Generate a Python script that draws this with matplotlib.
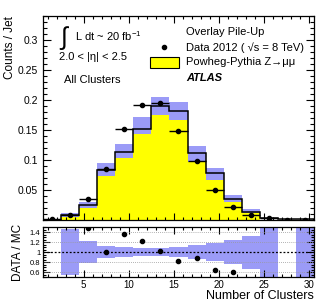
import numpy as np
import matplotlib
matplotlib.use("Agg")
import matplotlib.pyplot as plt
from matplotlib.ticker import MultipleLocator, FixedLocator
from matplotlib.patches import Rectangle

plt.rcParams['font.family'] = ['Liberation Sans', 'DejaVu Sans']
plt.rcParams['mathtext.fontset'] = 'custom'
plt.rcParams['mathtext.rm'] = 'Liberation Sans'
plt.rcParams['mathtext.it'] = 'Liberation Sans:italic'

# ---- data ----
bin_edges = np.arange(0.5, 31.0, 2.0)
bin_centers = np.arange(1.5, 30.0, 2.0)
data = [0.001, 0.0083, 0.0345, 0.0845, 0.151, 0.192, 0.1945, 0.149, 0.0975, 0.05, 0.021, 0.0083, 0.003, 0.0003, 0.0003]
data_err = [0.001, 0.001, 0.002, 0.002, 0.002, 0.002, 0.002, 0.002, 0.002, 0.002, 0.001, 0.001, 0.001, 0.0005, 0.0005]
mc_total = [0.0003, 0.0075, 0.025, 0.083, 0.114, 0.152, 0.190, 0.182, 0.111, 0.078, 0.035, 0.014, 0.004, 0.001, 0.001]
mc_signal = [0.0, 0.0045, 0.0195, 0.0733, 0.103, 0.144, 0.175, 0.1667, 0.097, 0.067, 0.0305, 0.011, 0.0, 0.0, 0.0]
band_lo = [np.nan, 0.0045, 0.0195, 0.0733, 0.103, 0.144, 0.175, 0.1667, 0.097, 0.067, 0.0305, 0.011, np.nan, np.nan, np.nan]
band_hi = [np.nan, 0.011, 0.0305, 0.0945, 0.126, 0.172, 0.2045, 0.196, 0.123, 0.087, 0.0417, 0.018, np.nan, np.nan, np.nan]

ratio = [np.nan, np.nan, 1.48, 1.0, 1.355, 1.23, 1.03, 0.82, 0.877, 0.64, 0.60, np.nan, np.nan, np.nan, np.nan]
ratio_err = [np.nan, 0.46, 0.22, 0.12, 0.10, 0.085, 0.075, 0.10, 0.135, 0.18, 0.24, 0.33, 1.0, np.nan, 1.0]

blue = '#9b9bf7'
yellow = '#ffff00'

fig = plt.figure(figsize=(3.29, 3.05), dpi=100)
ax = fig.add_axes([0.1307, 0.2787, 0.8237, 0.6689])
rx = fig.add_axes([0.1307, 0.0918, 0.8237, 0.1639])

# ---- main panel ----
for i in range(len(bin_centers)):
    x0, x1 = bin_edges[i], bin_edges[i + 1]
    if mc_signal[i] > 0:
        ax.fill_between([x0, x1], 0, mc_signal[i], color=yellow, lw=0, zorder=1)
    if not np.isnan(band_lo[i]):
        ax.fill_between([x0, x1], band_lo[i], band_hi[i], color=blue, lw=0, zorder=2)
ax.stairs(mc_total, bin_edges, color='black', lw=1.1, zorder=3)
ax.errorbar(bin_centers, data, xerr=1.0, yerr=data_err, fmt='o', color='black',
            ms=3.0, lw=1.0, capsize=0, zorder=4)

ax.set_xlim(0.5, 30.5)
ax.set_ylim(0, 0.34)
ax.yaxis.set_major_locator(FixedLocator([0.05, 0.1, 0.15, 0.2, 0.25, 0.3]))
ax.set_yticklabels(['0.05', '0.1', '0.15', '0.2', '0.25', '0.3'])
ax.yaxis.set_minor_locator(MultipleLocator(0.01))
ax.xaxis.set_major_locator(MultipleLocator(5))
ax.xaxis.set_minor_locator(MultipleLocator(1))
ax.tick_params(which='both', direction='in', top=True, right=True, labelbottom=False)
ax.tick_params(axis='y', which='major', length=6, labelsize=7.5, width=0.8)
ax.tick_params(axis='y', which='minor', length=3, width=0.8)
ax.tick_params(axis='x', which='major', length=5, width=0.8)
ax.tick_params(axis='x', which='minor', length=2.5, width=0.8)
ax.set_ylabel('Counts / Jet', fontsize=8.5, loc='top')
ax.yaxis.set_label_coords(-0.10, 1.0)

# annotations
ax.text(0.064, 0.893, '\u222b', transform=ax.transAxes, fontsize=18, va='center', ha='left')
ax.text(0.118, 0.902, 'L dt ~ 20 fb$^{-1}$', transform=ax.transAxes, fontsize=8, va='center', ha='left')
ax.text(0.059, 0.799, '2.0 < |\u03b7| < 2.5', transform=ax.transAxes, fontsize=8, va='center', ha='left')
ax.text(0.0775, 0.686, 'All Clusters', transform=ax.transAxes, fontsize=8, va='center', ha='left')

# legend
ax.text(0.528, 0.923, 'Overlay Pile-Up', transform=ax.transAxes, fontsize=8, va='center', ha='left')
ax.plot([0.446], [0.847], 'o', color='black', ms=3.0, transform=ax.transAxes, clip_on=False)
ax.text(0.528, 0.847, 'Data 2012 ( \u221as = 8 TeV)', transform=ax.transAxes, fontsize=8, va='center', ha='left')
ax.add_patch(Rectangle((0.395, 0.744), 0.107, 0.056, transform=ax.transAxes,
                       facecolor=yellow, edgecolor='black', lw=0.8, zorder=5))
ax.text(0.528, 0.776, 'Powheg-Pythia Z\u2192\u03bc\u03bc', transform=ax.transAxes, fontsize=8, va='center', ha='left')
ax.text(0.528, 0.695, 'ATLAS', transform=ax.transAxes, fontsize=8, va='center', ha='left',
        fontweight='bold', fontstyle='italic')

# ---- ratio panel ----
for i in range(len(bin_centers)):
    if not np.isnan(ratio_err[i]):
        rx.fill_between([bin_edges[i], bin_edges[i + 1]], 1 - ratio_err[i], 1 + ratio_err[i],
                        color=blue, lw=0, zorder=1)
for yv in [0.6, 0.8, 1.2, 1.4]:
    rx.axhline(yv, color='#999999', lw=0.6, ls=(0, (1, 1.5)), zorder=2)
rx.axhline(1.0, color='black', lw=0.9, ls=(0, (1.5, 1.5)), zorder=3)
rx.plot(bin_centers, ratio, 'o', color='black', ms=3.0, zorder=4)

rx.set_xlim(0.5, 30.5)
rx.set_ylim(0.5, 1.5)
rx.yaxis.set_major_locator(FixedLocator([0.6, 0.8, 1.0, 1.2, 1.4]))
rx.set_yticklabels(['0.6', '0.8', '1', '1.2', '1.4'])
rx.yaxis.set_minor_locator(MultipleLocator(0.05))
rx.xaxis.set_major_locator(MultipleLocator(5))
rx.xaxis.set_minor_locator(MultipleLocator(1))
rx.tick_params(which='both', direction='in', top=True, right=True)
rx.tick_params(axis='y', which='major', length=5, labelsize=5.5, width=0.8, pad=2)
rx.tick_params(axis='y', which='minor', length=2.5, width=0.8)
rx.tick_params(axis='x', which='major', length=5, labelsize=7, width=0.8, pad=2)
rx.tick_params(axis='x', which='minor', length=2.5, width=0.8)
rx.set_ylabel('DATA / MC', fontsize=8.5)
rx.yaxis.set_label_coords(-0.07, 0.5)
rx.set_xlabel('Number of Clusters', fontsize=9, loc='right', labelpad=0)

for a in (ax, rx):
    for s in a.spines.values():
        s.set_linewidth(0.9)

fig.savefig('out.png', dpi=100)
